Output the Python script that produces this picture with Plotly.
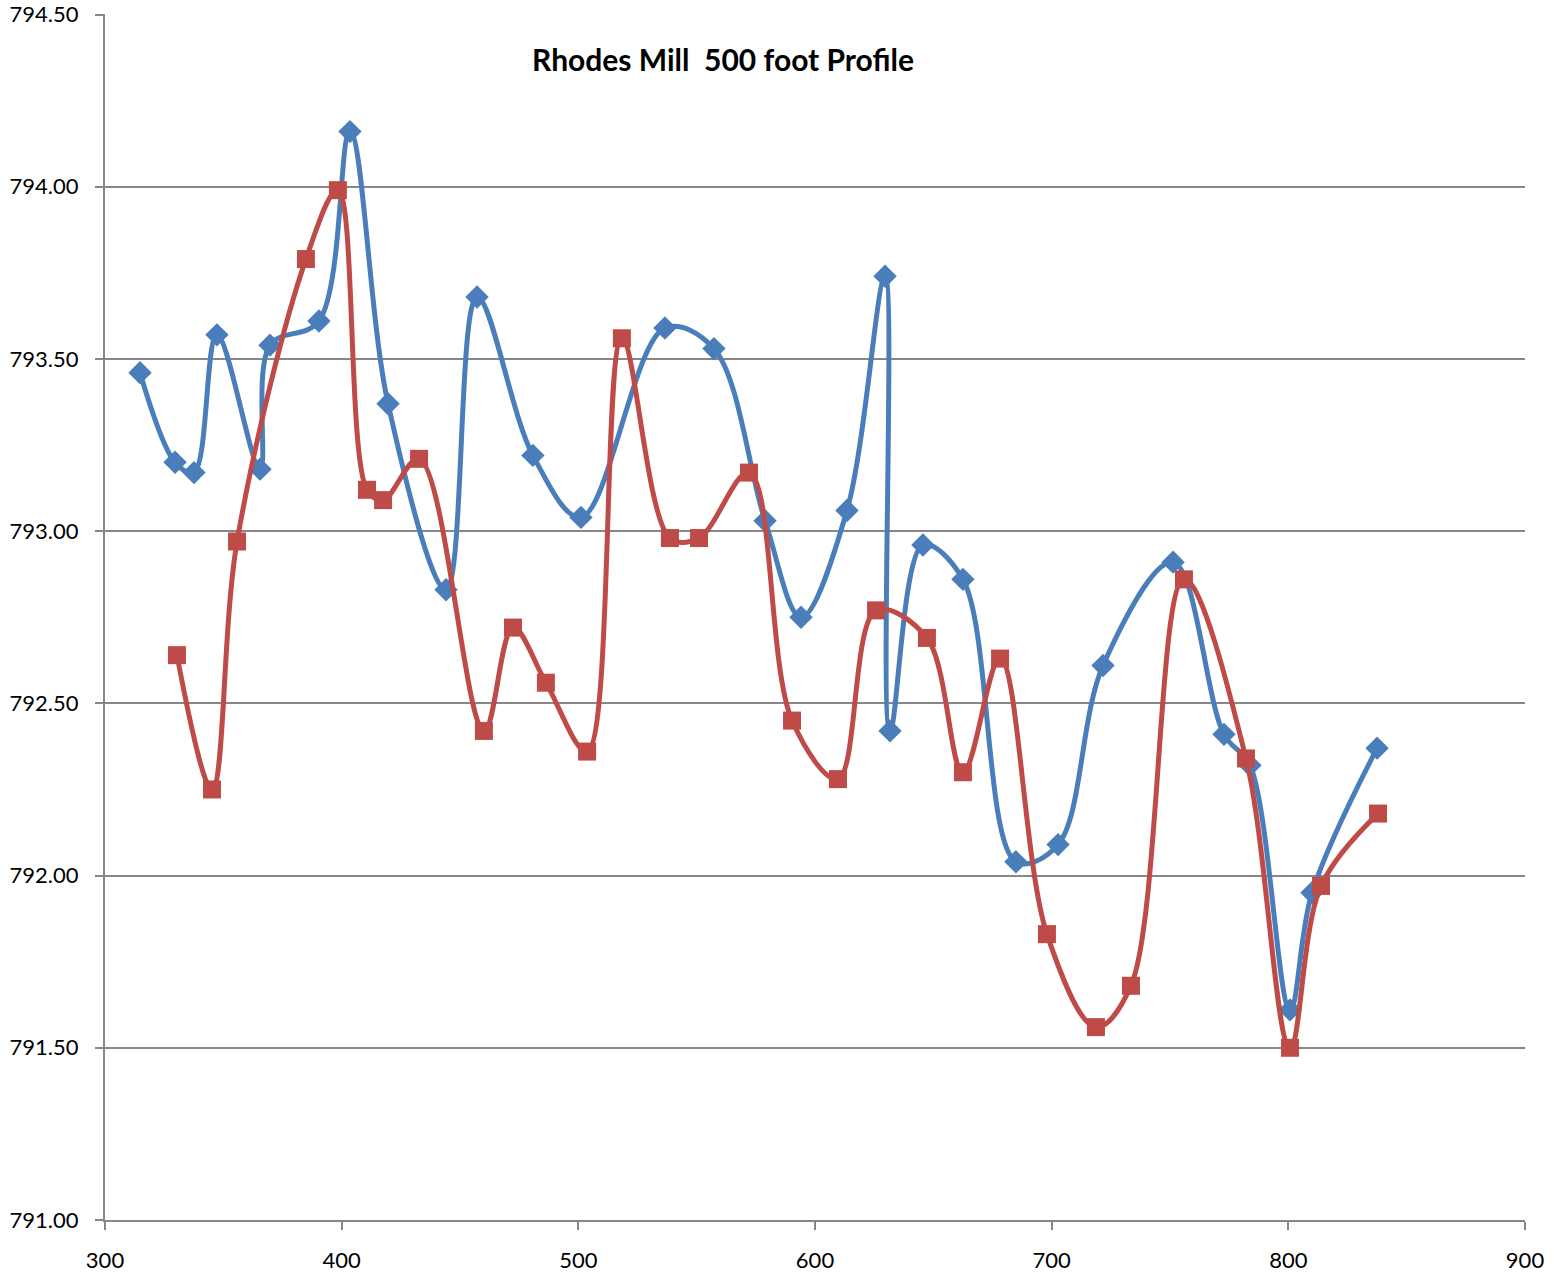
import plotly.graph_objects as go

# Station (feet) and water-surface elevation for the two profile runs
blue_station = [314.8, 329.6, 337.6, 347.3, 365.5, 369.7, 390.4, 403.5, 419.6, 444.1,
                457.2, 480.8, 501.1, 536.6, 557.3, 578.9, 594.1, 613.5, 629.6, 631.7,
                645.6, 662.5, 684.9, 702.7, 721.7, 751.3, 772.8, 783.8, 800.7, 810.0,
                837.5]
blue_elev = [793.46, 793.20, 793.17, 793.57, 793.18, 793.54, 793.61, 794.16, 793.37, 792.83,
             793.68, 793.22, 793.04, 793.59, 793.53, 793.03, 792.75, 793.06, 793.74, 792.42,
             792.96, 792.86, 792.04, 792.09, 792.61, 792.91, 792.41, 792.32, 791.61, 791.95,
             792.37]

red_station = [330.4, 345.2, 355.8, 384.9, 398.4, 410.7, 417.5, 432.7, 460.1, 472.4,
               486.3, 503.7, 518.4, 538.7, 551.0, 572.1, 590.3, 609.7, 625.8, 647.3,
               662.5, 678.2, 698.0, 718.7, 733.5, 755.9, 782.1, 800.7, 813.8, 837.9]
red_elev = [792.64, 792.25, 792.97, 793.79, 793.99, 793.12, 793.09, 793.21, 792.42, 792.72,
            792.56, 792.36, 793.56, 792.98, 792.98, 793.17, 792.45, 792.28, 792.77, 792.69,
            792.30, 792.63, 791.83, 791.56, 791.68, 792.86, 792.34, 791.50, 791.97, 792.18]

x_ticks = [300, 400, 500, 600, 700, 800, 900]
y_ticks = [791.0, 791.5, 792.0, 792.5, 793.0, 793.5, 794.0, 794.5]

BLUE = "#4A7EBB"
RED = "#BE4B48"
GRID = "#878787"
FONT = "Lato, Carlito, Calibri, sans-serif"

fig = go.Figure()
fig.add_trace(go.Scatter(
    x=blue_station, y=blue_elev, mode="lines+markers",
    line=dict(color=BLUE, width=5, shape="spline", smoothing=1),
    marker=dict(symbol="diamond", size=18, color=BLUE),
    showlegend=False,
))
fig.add_trace(go.Scatter(
    x=red_station, y=red_elev, mode="lines+markers",
    line=dict(color=RED, width=5, shape="spline", smoothing=1),
    marker=dict(symbol="square", size=18, color=RED),
    showlegend=False,
))

fig.update_layout(
    width=1554, height=1286,
    margin=dict(l=105, r=29, t=14, b=66, autoexpand=False),
    paper_bgcolor="white", plot_bgcolor="white",
    font=dict(family=FONT, size=22, color="black"),
    title=dict(
        text="<b>Rhodes Mill  500 foot Profile</b>",
        font=dict(family=FONT, size=30, color="black"),
        xref="container", yref="container",
        x=723 / 1554, y=1 - 60 / 1286, xanchor="center", yanchor="middle",
    ),
    xaxis=dict(
        range=[300, 900], tickvals=x_ticks, ticktext=[str(v) for v in x_ticks],
        showgrid=False, zeroline=False, automargin=False,
        showline=True, linecolor=GRID, linewidth=2,
        ticks="outside", ticklen=8, tickcolor=GRID, tickwidth=2,
        ticklabelstandoff=12,
        tickfont=dict(family=FONT, size=22),
    ),
    yaxis=dict(
        range=[791.0, 794.5015], tickvals=y_ticks, ticktext=[f"{v:.2f}" for v in y_ticks],
        showgrid=True, gridcolor=GRID, gridwidth=2, zeroline=False, automargin=False,
        showline=True, linecolor=GRID, linewidth=2,
        ticks="outside", ticklen=8, tickcolor=GRID, tickwidth=2,
        ticklabelstandoff=12, ticklabeloverflow="allow",
        tickfont=dict(family=FONT, size=22),
    ),
)

fig.write_html("out.html")
